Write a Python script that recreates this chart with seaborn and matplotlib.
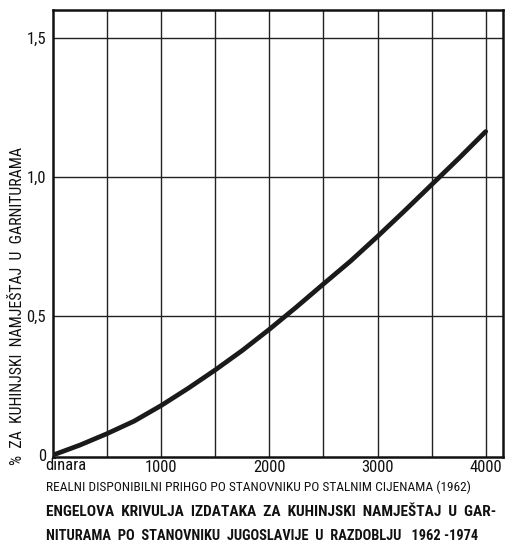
import matplotlib
matplotlib.use("Agg")
import matplotlib.pyplot as plt
from matplotlib import font_manager
import seaborn as sns
import pandas as pd

income = [0, 250, 500, 750, 1000, 1250, 1500, 1750, 2000, 2250, 2500, 2750, 3000, 3250, 3500, 3750, 4000]
share = [0.0, 0.036, 0.077, 0.122, 0.178, 0.24, 0.306, 0.376, 0.452, 0.532, 0.615, 0.697, 0.786, 0.878, 0.972, 1.066, 1.163]
x_ticks = [0, 1000, 2000, 3000, 4000]
x_tick_labels = ["dinara", "1000", "2000", "3000", "4000"]
y_ticks = [0, 0.5, 1.0, 1.5]
y_tick_labels = ["0", "0,5", "1,0", "1,5"]
x_label = "REALNI DISPONIBILNI PRIHGO PO STANOVNIKU PO STALNIM CIJENAMA (1962)"
y_label = "%  ZA  KUHINJSKI  NAMJEŠTAJ  U  GARNITURAMA"
title_1 = "ENGELOVA  KRIVULJA  IZDATAKA  ZA  KUHINJSKI  NAMJEŠTAJ  U  GAR-"
title_2 = "NITURAMA  PO  STANOVNIKU  JUGOSLAVIJE  U  RAZDOBLJU   1962 -1974"

sns.set_theme(style="white")

# choose a narrow font if one is installed
fams = {}
for f in font_manager.fontManager.ttflist:
    fams.setdefault(f.name, set()).add(str(f.stretch))
family = ["DejaVu Sans"]
stretch = "normal"
for cand in ["Liberation Sans Narrow", "Roboto Condensed", "Open Sans Condensed", "Noto Sans Condensed"]:
    if cand in fams:
        family = [cand, "DejaVu Sans"]
        break
else:
    if any(s in ("condensed", "semi-condensed", "75", "87") for s in fams.get("DejaVu Sans", set())):
        stretch = "condensed"
    elif "Roboto" in fams:
        family = ["Roboto", "DejaVu Sans"]
plt.rcParams['font.family'] = family
plt.rcParams['font.stretch'] = stretch

df = pd.DataFrame({"income": income, "share": share})

W, H = 505, 545
fig = plt.figure(figsize=(5.05, 5.45), dpi=100)
ax = fig.add_axes([53 / W, 1 - 457 / H, 450 / W, 447 / H])

for xv in range(500, 4001, 500):
    ax.axvline(xv, color="#222222", lw=1.0, zorder=1)
for yv in [0.5, 1.0, 1.5]:
    ax.axhline(yv, color="#222222", lw=1.0, zorder=1)

sns.lineplot(data=df, x="income", y="share", ax=ax, color="#1a1a1a", lw=3.4, zorder=3)

ax.set_xlim(0, 4160)
ax.set_ylim(-0.007, 1.6)
ax.set_xticks(x_ticks)
ax.set_xticklabels([""] + x_tick_labels[1:], fontsize=12, color="#111111")
ax.set_yticks(y_ticks)
ax.set_yticklabels(y_tick_labels, fontsize=12, color="#111111")
ax.tick_params(axis="x", length=0, pad=2)
ax.tick_params(axis="y", length=0, pad=5)
ax.set_xlabel("")
ax.set_ylabel("")

for s in ax.spines.values():
    s.set_color("#111111")
    s.set_linewidth(1.8)

fig.canvas.draw()
renderer = fig.canvas.get_renderer()


def fitted(x, y, s, width_px, size, rot=0, **kw):
    t = fig.text(x / W, 1 - y / H, s, fontsize=size, rotation=rot, color="#111111", **kw)
    bb = t.get_window_extent(renderer)
    cur = bb.height if rot else bb.width
    t.set_fontsize(size * width_px / cur)
    return t


fig.text(45 / W, 1 - 466 / H, x_tick_labels[0], fontsize=12, ha="left", va="center", color="#111111")
fitted(46, 487, x_label, 424, 11, ha="left", va="center")
fitted(18, 306, y_label, 317, 11, rot=90, ha="center", va="center")
fitted(46, 512, title_1, 455, 14, ha="left", va="center", fontweight="bold")
fitted(46, 536, title_2, 431, 14, ha="left", va="center", fontweight="bold")

fig.savefig("out.png", dpi=100, facecolor="white")
